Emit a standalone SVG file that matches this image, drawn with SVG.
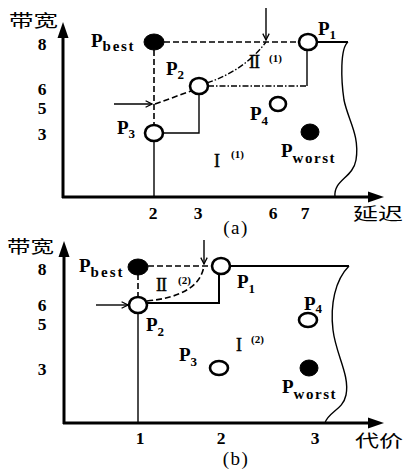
<svg xmlns="http://www.w3.org/2000/svg" width="404" height="471" viewBox="0 0 404 471">
  <style>
    .lbl { font-family: "Liberation Serif", "Times New Roman", serif; font-weight: bold; font-size: 19px; fill: #000; }
    .tick { font-family: "Liberation Serif", "Times New Roman", serif; font-weight: bold; font-size: 17.5px; fill: #000; }
    .sub { font-size: 13px; }
    .sub2 { font-size: 15px; }
    .cap { font-family: "Liberation Serif", serif; font-size: 19px; fill: #000; }
    .cjk { font-family: "Noto Sans CJK SC", "Noto Sans CJK JP", sans-serif; font-size: 17px; fill: #000; }
    .roman { font-family: "Liberation Serif", serif; font-size: 18px; fill: #000; stroke: #000; stroke-width: 0.4; }
    .sup { font-family: "Liberation Serif", serif; font-weight: bold; font-size: 11px; fill: #000; }
    .axis { stroke: #000; stroke-width: 3; fill: none; }
    .open { fill: #fff; stroke: #000; stroke-width: 2.6; }
    .fill { fill: #000; stroke: #000; stroke-width: 1; }
    .dash { stroke: #000; stroke-width: 1.6; fill: none; stroke-dasharray: 6 3; }
    .dashdot { stroke: #000; stroke-width: 1.4; fill: none; stroke-dasharray: 6 2 1.5 2; }
    .thin { stroke: #000; stroke-width: 1.4; fill: none; }
    .solid { stroke: #000; stroke-width: 2; fill: none; }
    .ptr { stroke: #000; stroke-width: 1.4; fill: none; marker-end: url(#head); }
  </style>
  <defs>
    <marker id="head" viewBox="0 0 10 10" refX="9" refY="5" markerWidth="8" markerHeight="8" markerUnits="userSpaceOnUse" orient="auto">
      <path d="M1,1 L9,5 L1,9" fill="none" stroke="#000" stroke-width="1.6"/>
    </marker>
  </defs>

  <!-- ===== Panel (a): bandwidth vs delay ===== -->
  <g id="axes-a">
    <line class="axis" x1="63" y1="198" x2="63" y2="36"/>
    <polygon points="63,22 57.5,38 68.5,38" fill="#000"/>
    <line class="axis" x1="62" y1="197" x2="370" y2="197"/>
    <polygon points="384,197 368,191.5 368,202.5" fill="#000"/>
    <text class="cjk" x="9" y="27" textLength="49" lengthAdjust="spacingAndGlyphs">带宽</text>
    <text class="cjk" x="353" y="220" textLength="50" lengthAdjust="spacingAndGlyphs">延迟</text>
    <text class="tick" x="42" y="50" text-anchor="middle">8</text>
    <text class="tick" x="42" y="95" text-anchor="middle">6</text>
    <text class="tick" x="42" y="114" text-anchor="middle">5</text>
    <text class="tick" x="42" y="140" text-anchor="middle">3</text>
    <text class="tick" x="153" y="219" text-anchor="middle">2</text>
    <text class="tick" x="198" y="219" text-anchor="middle">3</text>
    <text class="tick" x="273" y="219" text-anchor="middle">6</text>
    <text class="tick" x="305" y="219" text-anchor="middle">7</text>
    <text class="cap" x="236" y="234" text-anchor="middle" letter-spacing="1.5">(a)</text>
  </g>

  <g id="connectors-a">
    <line class="dash" x1="164" y1="42" x2="299" y2="42"/>
    <line class="dash" x1="154" y1="50" x2="154" y2="125"/>
    <line class="thin" x1="154" y1="141" x2="154" y2="196"/>
    <line class="dash" x1="155" y1="104" x2="191" y2="91"/>
    <line class="ptr" x1="114" y1="104" x2="152" y2="104"/>
    <line class="ptr" x1="266" y1="8" x2="266" y2="40"/>
    <polyline class="thin" points="163,133 199,133 199,94"/>
    <line class="dashdot" x1="208" y1="86" x2="307" y2="86"/>
    <line class="thin" x1="307" y1="86" x2="307" y2="50"/>
    <path class="dashdot" d="M207,83 Q245,70 266,42"/>
    <line class="solid" x1="317" y1="42" x2="348" y2="42"/>
    <path class="thin" d="M348,42 C340,48 341,80 344,100 C348,120 360,135 356,160 C353,178 333,180 335,197"/>
  </g>

  <g id="a-pbest">
    <ellipse class="fill" cx="154" cy="42" rx="10" ry="8"/>
    <text class="lbl" x="91" y="47">P<tspan class="sub2" dy="4" textLength="31">best</tspan></text>
  </g>
  <g id="a-p1">
    <ellipse class="open" cx="308" cy="42" rx="9" ry="8"/>
    <text class="lbl" x="318" y="35">P<tspan class="sub" dy="4">1</tspan></text>
  </g>
  <g id="a-p2">
    <ellipse class="open" cx="199" cy="86" rx="9" ry="8"/>
    <text class="lbl" x="166" y="75">P<tspan class="sub" dy="4">2</tspan></text>
  </g>
  <g id="a-p3">
    <ellipse class="open" cx="154" cy="133" rx="9" ry="8"/>
    <text class="lbl" x="117" y="134">P<tspan class="sub" dy="4">3</tspan></text>
  </g>
  <g id="a-p4">
    <ellipse class="open" cx="278" cy="104" rx="8" ry="7"/>
    <text class="lbl" x="250" y="120">P<tspan class="sub" dy="5">4</tspan></text>
  </g>
  <g id="a-pworst">
    <ellipse class="fill" cx="310" cy="132" rx="9" ry="8"/>
    <text class="lbl" x="281" y="157">P<tspan class="sub2" dy="6" textLength="42">worst</tspan></text>
  </g>
  <g id="a-regions">
    <text class="roman" x="249" y="68" letter-spacing="-1">II</text>
    <text class="sup" x="269" y="62">(1)</text>
    <text class="roman" x="214" y="167">I</text>
    <text class="sup" x="231" y="158">(1)</text>
  </g>

  <!-- ===== Panel (b): bandwidth vs cost ===== -->
  <g id="axes-b">
    <line class="axis" x1="64" y1="424" x2="64" y2="256"/>
    <polygon points="64,241 58.5,257 69.5,257" fill="#000"/>
    <line class="axis" x1="63" y1="423" x2="370" y2="423"/>
    <polygon points="384,423 368,417.5 368,428.5" fill="#000"/>
    <text class="cjk" x="7" y="253" textLength="47" lengthAdjust="spacingAndGlyphs">带宽</text>
    <text class="cjk" x="355" y="447" textLength="48" lengthAdjust="spacingAndGlyphs">代价</text>
    <text class="tick" x="42" y="275" text-anchor="middle">8</text>
    <text class="tick" x="42" y="311" text-anchor="middle">6</text>
    <text class="tick" x="42" y="330" text-anchor="middle">5</text>
    <text class="tick" x="42" y="375" text-anchor="middle">3</text>
    <text class="tick" x="140" y="444" text-anchor="middle">1</text>
    <text class="tick" x="221" y="444" text-anchor="middle">2</text>
    <text class="tick" x="315" y="444" text-anchor="middle">3</text>
    <text class="cap" x="236" y="465" text-anchor="middle" letter-spacing="1.5">(b)</text>
  </g>

  <g id="connectors-b">
    <line class="dash" x1="148" y1="266" x2="212" y2="266"/>
    <line class="dash" x1="138" y1="274" x2="138" y2="297"/>
    <line class="thin" x1="138" y1="313" x2="138" y2="422"/>
    <line class="ptr" x1="96" y1="305" x2="128" y2="305"/>
    <line class="ptr" x1="204" y1="240" x2="204" y2="264"/>
    <polyline class="solid" points="147,303 219,303 219,274"/>
    <path class="dash" d="M147,301 Q199,296 204,266"/>
    <line class="solid" x1="230" y1="266" x2="349" y2="266"/>
    <path class="thin" d="M349,266 C335,280 330,305 333,330 C336,355 350,375 346,395 C343,410 328,412 325,423"/>
  </g>

  <g id="b-pbest">
    <ellipse class="fill" cx="138" cy="267" rx="10" ry="8"/>
    <text class="lbl" x="79" y="272">P<tspan class="sub2" dy="5" textLength="32">best</tspan></text>
  </g>
  <g id="b-p1">
    <ellipse class="open" cx="221" cy="266" rx="9" ry="8"/>
    <text class="lbl" x="237" y="288">P<tspan class="sub" dy="5">1</tspan></text>
  </g>
  <g id="b-p2">
    <ellipse class="open" cx="138" cy="305" rx="9" ry="8"/>
    <text class="lbl" x="146" y="331">P<tspan class="sub" dy="5">2</tspan></text>
  </g>
  <g id="b-p3">
    <ellipse class="open" cx="219" cy="368" rx="9" ry="7"/>
    <text class="lbl" x="179" y="361">P<tspan class="sub" dy="5">3</tspan></text>
  </g>
  <g id="b-p4">
    <ellipse class="open" cx="308" cy="320" rx="9" ry="7"/>
    <text class="lbl" x="304" y="310">P<tspan class="sub" dy="3">4</tspan></text>
  </g>
  <g id="b-pworst">
    <ellipse class="fill" cx="309" cy="368" rx="9" ry="8"/>
    <text class="lbl" x="282" y="393">P<tspan class="sub2" dy="6" textLength="42">worst</tspan></text>
  </g>
  <g id="b-regions">
    <text class="roman" x="156" y="291" letter-spacing="-1">II</text>
    <text class="sup" x="178" y="284">(2)</text>
    <text class="roman" x="236" y="351">I</text>
    <text class="sup" x="251" y="343">(2)</text>
  </g>
</svg>
